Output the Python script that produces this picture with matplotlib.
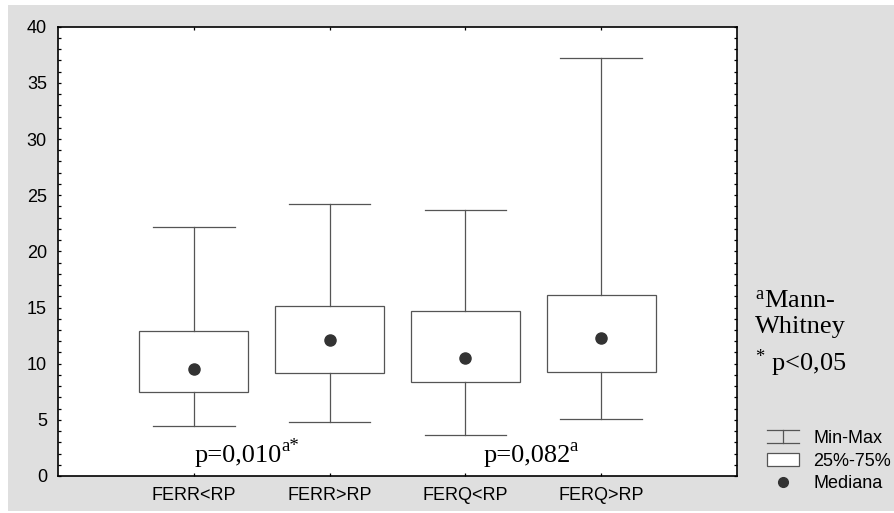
import matplotlib
matplotlib.use('Agg')
import matplotlib.pyplot as plt
from matplotlib.patches import Rectangle
from matplotlib.lines import Line2D
from matplotlib.legend_handler import HandlerBase

plt.rcParams['font.family'] = ['Liberation Sans', 'DejaVu Sans']
plt.rcParams['mathtext.fontset'] = 'custom'
plt.rcParams['mathtext.rm'] = 'Liberation Serif'
plt.rcParams['mathtext.it'] = 'Liberation Serif:italic'

# Data
categories = ['FERR<RP', 'FERR>RP', 'FERQ<RP', 'FERQ>RP']
mins = [4.45, 4.8, 3.65, 5.1]
q1 = [7.5, 9.15, 8.35, 9.3]
medians = [9.5, 12.1, 10.5, 12.25]
q3 = [12.95, 15.1, 14.7, 16.1]
maxs = [22.2, 24.2, 23.7, 37.25]
p_texts = ['p=0,010', 'p=0,082']
p_sups = ['a*', 'a']

box_col = '#555555'
dot_col = '#333333'

fig = plt.figure(figsize=(8.94, 5.13), dpi=100)
fig.patch.set_facecolor('white')
# grey panel behind the plot
fig.patches.append(Rectangle((8 / 894, 2 / 513), 1, 1 - 7 / 513,
                             transform=fig.transFigure, facecolor='#dfdfdf',
                             edgecolor='none', zorder=-10))

ax = fig.add_axes([58 / 894, 1 - 476 / 513, 679 / 894, 449.3 / 513])
ax.set_facecolor('white')

positions = list(range(1, len(categories) + 1))
stats = [dict(whislo=mins[i], q1=q1[i], med=medians[i], q3=q3[i], whishi=maxs[i])
         for i in range(len(categories))]
ax.bxp(stats, positions=positions, widths=0.8, capwidths=0.6,
       showfliers=False, patch_artist=True,
       boxprops=dict(facecolor='white', edgecolor=box_col, linewidth=0.9),
       whiskerprops=dict(color=box_col, linewidth=0.9),
       capprops=dict(color=box_col, linewidth=0.9),
       medianprops=dict(visible=False))
ax.plot(positions, medians, 'o', color=dot_col, markersize=8, zorder=5)

ax.set_xlim(0, 5)
ax.set_ylim(0, 40)
ax.set_xticks(positions)
ax.set_xticklabels(categories)
ax.set_yticks(range(0, 41, 5))
ax.set_yticks(range(0, 41, 1), minor=True)
ax.tick_params(axis='both', which='both', direction='in', length=2.2, width=0.9,
               labelsize=13, colors='black')
ax.tick_params(axis='y', which='both', right=True, pad=8)
ax.tick_params(axis='x', which='both', top=True, pad=8)
for s in ax.spines.values():
    s.set_linewidth(1.2)
    s.set_color('black')

# p-values with superscripts
for xpos, txt, sup in zip([1.009, 3.132], p_texts, p_sups):
    t = ax.text(xpos, 1.27, txt, fontsize=19, family='Liberation Serif', va='baseline')
    ax.annotate(sup, xy=(1, 0), xycoords=t, xytext=(-0.8, 11.5),
                textcoords='offset points', fontsize=13.5,
                family='Liberation Serif', va='baseline', ha='left')

# footnote on the right
fig.text(755 / 894, 1 - 308 / 513, r'$^{\mathrm{a}}$Mann-', fontsize=19,
         family='Liberation Serif', va='baseline')
fig.text(755 / 894, 1 - 333 / 513, 'Whitney', fontsize=19,
         family='Liberation Serif', va='baseline')
fig.text(755 / 894, 1 - 371 / 513, r'$^{*}$ p<0,05', fontsize=19,
         family='Liberation Serif', va='baseline')


class HandlerMinMax(HandlerBase):
    def create_artists(self, legend, orig_handle, xdescent, ydescent,
                       width, height, fontsize, trans):
        x0, x1 = -xdescent, -xdescent + width
        xm = (x0 + x1) / 2
        y0, y1 = -ydescent, -ydescent + height
        segs = [([x0, x1], [y1, y1]), ([x0, x1], [y0, y0]), ([xm, xm], [y0, y1])]
        out = []
        for xs, ys in segs:
            ln = Line2D(xs, ys, color=box_col, linewidth=0.9)
            ln.set_transform(trans)
            out.append(ln)
        return out


h_minmax = Line2D([], [])
h_box = Rectangle((0, 0), 1, 1, facecolor='white', edgecolor=box_col, linewidth=0.9)
h_med = Line2D([], [], marker='o', linestyle='none', color=dot_col, markersize=7)
fig.legend([h_minmax, h_box, h_med], ['Min-Max', '25%-75%', 'Mediana'],
           handler_map={h_minmax: HandlerMinMax()},
           loc='center left', bbox_to_anchor=(767 / 894, 1 - 461 / 513),
           frameon=False, fontsize=13, borderpad=0, borderaxespad=0,
           handlelength=1.78, handleheight=0.72, handletextpad=0.78,
           labelspacing=0.32)

fig.savefig('out.png', dpi=100, facecolor=fig.get_facecolor())
